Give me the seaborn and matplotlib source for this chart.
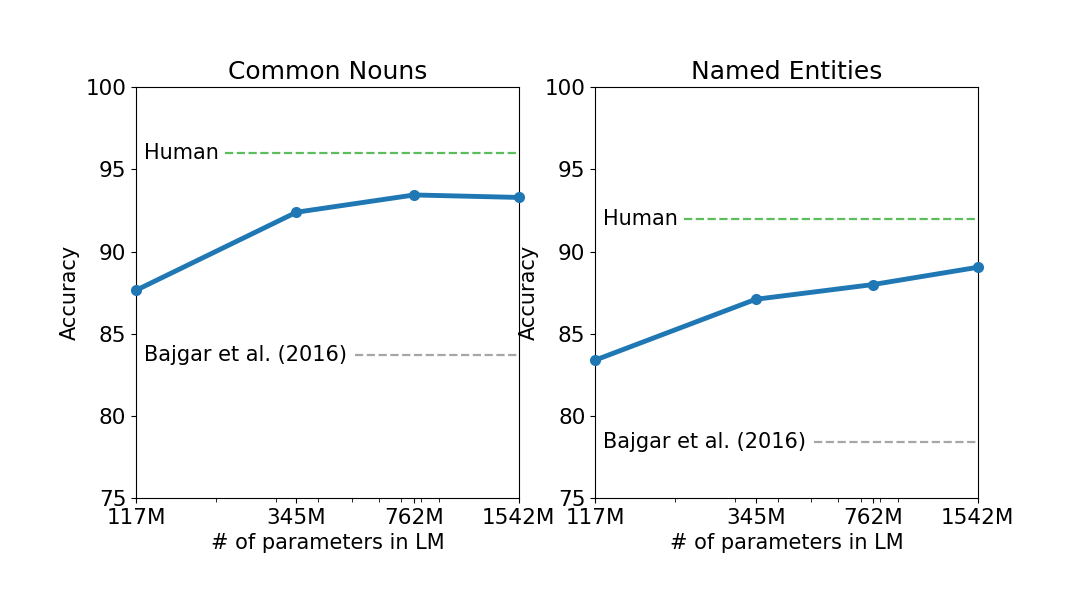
import numpy as np
import pandas as pd
import matplotlib
matplotlib.use("Agg")
import matplotlib.pyplot as plt
import seaborn as sns

# Data
params = [117, 345, 762, 1542]
param_labels = ["117M", "345M", "762M", "1542M"]
cn_acc = [87.65, 92.4, 93.45, 93.3]
ne_acc = [83.4, 87.1, 88.0, 89.05]
cn_human = 96.0
cn_bajgar = 83.7
ne_human = 92.0
ne_bajgar = 78.4

sns.set_style("ticks")
plt.rcParams['font.family'] = ['DejaVu Sans']
plt.rcParams['text.color'] = 'black'
plt.rcParams['axes.labelcolor'] = 'black'
plt.rcParams['xtick.color'] = 'black'
plt.rcParams['ytick.color'] = 'black'
plt.rcParams['axes.edgecolor'] = 'black'

fig, axes = plt.subplots(1, 2, figsize=(10.71, 6.15), dpi=100)
fig.subplots_adjust(left=0.127, right=0.913, top=0.858, bottom=0.19, wspace=0.2)

panels = [
    (axes[0], "Common Nouns", cn_acc, cn_human, cn_bajgar),
    (axes[1], "Named Entities", ne_acc, ne_human, ne_bajgar),
]

for ax, title, acc, human, bajgar in panels:
    df = pd.DataFrame({"params": params, "acc": acc})
    sns.lineplot(data=df, x="params", y="acc", ax=ax, color="#1f77b4",
                 linewidth=3.5, marker="o", markersize=8, markeredgewidth=0,
                 clip_on=False, zorder=3)
    ax.set_xscale("log")
    ax.set_xlim(params[0], params[-1])
    ax.set_xticks(params)
    ax.set_xticklabels(param_labels)
    ax.set_ylim(75, 100)
    ax.set_yticks([75, 80, 85, 90, 95, 100])
    ax.tick_params(axis="both", labelsize=15.5)
    ax.tick_params(axis="x", which="minor", length=3)
    for s in ax.spines.values():
        s.set_visible(True)
        s.set_linewidth(0.8)

    ax.axhline(human, xmin=0.233, xmax=1, color="#5cbd5c", linestyle="--", linewidth=1.6)
    ax.text(0.02, (human - 75) / 25, "Human", transform=ax.transAxes,
            fontsize=15, va="center", ha="left")
    ax.axhline(bajgar, xmin=0.571, xmax=1, color="#a6a6a6", linestyle="--", linewidth=1.6)
    ax.text(0.02, (bajgar - 75) / 25, "Bajgar et al. (2016)", transform=ax.transAxes,
            fontsize=15, va="center", ha="left")

    ax.set_title(title, fontsize=18)
    ax.set_xlabel("# of parameters in LM", fontsize=15)
    ax.set_ylabel("Accuracy", fontsize=15, labelpad=4)

plt.savefig("out.png", dpi=100)
